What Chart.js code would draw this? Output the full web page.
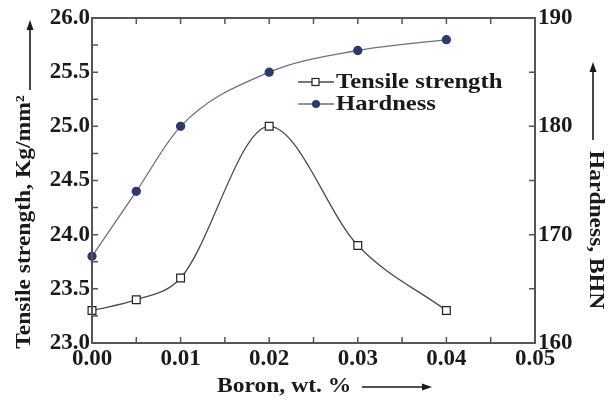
<!DOCTYPE html>
<html>
<head>
<meta charset="utf-8">
<script src="https://cdn.jsdelivr.net/npm/chart.js@4"></script>
<style>
  html, body { margin: 0; padding: 0; background: #fff; }
  #wrap { width: 608px; height: 408px; }
</style>
</head>
<body>
<div id="wrap"><canvas id="chart" width="608" height="408"></canvas></div>
<script>
// Data
const boron = [0, 0.005, 0.01, 0.02, 0.03, 0.04];
const tensile = [23.3, 23.4, 23.6, 25.0, 23.9, 23.3];
const hardness = [168, 174, 180, 185, 187, 188];

const xTicks = [0, 0.01, 0.02, 0.03, 0.04, 0.05];
const leftTicks = [23.0, 23.5, 24.0, 24.5, 25.0, 25.5, 26.0];
const rightTicks = [160, 170, 180, 190];

const FONT = '"Liberation Serif", "Times New Roman", serif';
const INK = '#1a1a1a';
const AXIS = '#555';

// text a little wider than the font, like the scanned original
function wideText(ctx, text, x, y, sx, align) {
    ctx.save();
    ctx.translate(x, y);
    ctx.scale(sx, 1);
    ctx.textAlign = align;
    ctx.fillText(text, 0, 0);
    ctx.restore();
}

function arrow(ctx, x1, y1, x2, y2) {
    const ang = Math.atan2(y2 - y1, x2 - x1);
    const c = Math.cos(ang), s = Math.sin(ang);
    ctx.strokeStyle = INK;
    ctx.fillStyle = INK;
    ctx.lineWidth = 1.6;
    ctx.beginPath();
    ctx.moveTo(x1, y1);
    ctx.lineTo(x2 - 6 * c, y2 - 6 * s);
    ctx.stroke();
    ctx.beginPath();
    ctx.moveTo(x2, y2);
    ctx.lineTo(x2 - 10 * c + 3.5 * s, y2 - 10 * s - 3.5 * c);
    ctx.lineTo(x2 - 10 * c - 3.5 * s, y2 - 10 * s + 3.5 * c);
    ctx.closePath();
    ctx.fill();
}

// frame, inward ticks, titles, arrows and legend
const decorations = {
    id: 'decorations',
    afterDraw(chart) {
        const ctx = chart.ctx;
        const a = chart.chartArea;
        const x = chart.scales.x, yl = chart.scales.y, yr = chart.scales.y1;
        ctx.save();

        // frame
        ctx.strokeStyle = AXIS;
        ctx.lineWidth = 2;
        ctx.strokeRect(a.left, a.top, a.right - a.left, a.bottom - a.top);

        // inward ticks (major + minor)
        ctx.lineWidth = 1.5;
        const t = 6;
        ctx.beginPath();
        for (let i = 0; i <= 10; i++) {
            const px = x.getPixelForValue(i * 0.005);
            ctx.moveTo(px, a.bottom); ctx.lineTo(px, a.bottom - t);
            ctx.moveTo(px, a.top); ctx.lineTo(px, a.top + t);
        }
        for (let i = 0; i <= 12; i++) {
            const py = yl.getPixelForValue(23 + i * 0.25);
            ctx.moveTo(a.left, py); ctx.lineTo(a.left + t, py);
        }
        for (let i = 0; i <= 6; i++) {
            const py = yr.getPixelForValue(160 + i * 5);
            ctx.moveTo(a.right, py); ctx.lineTo(a.right - t, py);
        }
        ctx.stroke();

        // titles
        ctx.fillStyle = INK;
        ctx.font = 'bold 22px ' + FONT;
        ctx.textBaseline = 'middle';

        wideText(ctx, 'Boron, wt. %', 217, 386, 1.07, 'left');
        arrow(ctx, 362, 387, 432, 387);

        ctx.save();
        ctx.translate(24, 222);
        ctx.rotate(-Math.PI / 2);
        wideText(ctx, 'Tensile strength, Kg/mm\u00B2', 0, 0, 1.07, 'center');
        ctx.restore();
        arrow(ctx, 30, 90, 30, 20);

        ctx.save();
        ctx.translate(596, 230);
        ctx.rotate(Math.PI / 2);
        wideText(ctx, 'Hardness, BHN', 0, 0, 1.07, 'center');
        ctx.restore();
        arrow(ctx, 593, 140, 593, 62);

        // legend
        const rows = [82, 104];
        chart.data.datasets.forEach((ds, i) => {
            const y = rows[i];
            ctx.strokeStyle = ds.borderColor;
            ctx.lineWidth = 1.5;
            ctx.beginPath();
            ctx.moveTo(298, y); ctx.lineTo(334, y);
            ctx.stroke();
            ctx.lineWidth = 1.2;
            if (ds.pointStyle === 'rect') {
                ctx.fillStyle = '#fff';
                ctx.strokeStyle = '#222';
                ctx.fillRect(312, y - 3.5, 7, 7);
                ctx.strokeRect(312, y - 3.5, 7, 7);
            } else {
                ctx.fillStyle = ds.pointBackgroundColor;
                ctx.beginPath();
                ctx.arc(316, y, 4, 0, Math.PI * 2);
                ctx.fill();
            }
            ctx.fillStyle = INK;
            ctx.font = 'bold 22px ' + FONT;
            wideText(ctx, ds.label, 336, y, 1.12, 'left');
        });

        ctx.restore();
    }
};

const tickFont = { family: FONT, size: 23, weight: 'bold' };

new Chart(document.getElementById('chart'), {
    type: 'line',
    data: {
        datasets: [
            {
                label: 'Tensile strength',
                data: boron.map((b, i) => ({ x: b, y: tensile[i] })),
                yAxisID: 'y',
                borderColor: '#4a4a4a',
                borderWidth: 1.3,
                cubicInterpolationMode: 'monotone',
                pointStyle: 'rect',
                pointRadius: 5.5,
                pointBackgroundColor: '#fff',
                pointBorderColor: '#222',
                pointBorderWidth: 1.2
            },
            {
                label: 'Hardness',
                data: boron.map((b, i) => ({ x: b, y: hardness[i] })),
                yAxisID: 'y1',
                borderColor: '#68708a',
                borderWidth: 1.3,
                cubicInterpolationMode: 'monotone',
                pointStyle: 'circle',
                pointRadius: 4,
                pointBackgroundColor: '#2c3a6e',
                pointBorderColor: '#2c3a6e'
            }
        ]
    },
    options: {
        responsive: false,
        animation: false,
        clip: false,
        layout: { padding: { top: 18, left: 0, right: 0, bottom: 0 } },
        plugins: { legend: { display: false }, tooltip: { enabled: false } },
        scales: {
            x: {
                type: 'linear',
                min: 0,
                max: 0.05,
                afterBuildTicks: s => { s.ticks = xTicks.map(v => ({ value: v })); },
                afterFit: s => { s.height = 65; },
                grid: { display: false, drawTicks: false },
                border: { display: false },
                ticks: {
                    color: INK, font: tickFont, padding: 2, maxRotation: 0,
                    callback: v => Number(v).toFixed(2)
                }
            },
            y: {
                position: 'left',
                min: 23,
                max: 26,
                afterBuildTicks: s => { s.ticks = leftTicks.map(v => ({ value: v })); },
                afterFit: s => { s.width = 92; },
                grid: { display: false, drawTicks: false },
                border: { display: false },
                ticks: {
                    color: INK, font: tickFont, padding: 2,
                    callback: v => Number(v).toFixed(1)
                }
            },
            y1: {
                position: 'right',
                min: 160,
                max: 190,
                afterBuildTicks: s => { s.ticks = rightTicks.map(v => ({ value: v })); },
                afterFit: s => { s.width = 73; },
                grid: { display: false, drawTicks: false },
                border: { display: false },
                ticks: { color: INK, font: tickFont, padding: 3 }
            }
        }
    },
    plugins: [decorations]
});
</script>
</body>
</html>
